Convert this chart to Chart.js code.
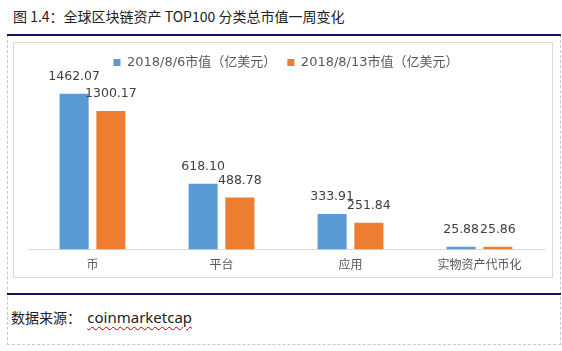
<!DOCTYPE html>
<html>
<head>
<meta charset="utf-8">
<script src="https://cdn.jsdelivr.net/npm/chart.js@4/dist/chart.umd.min.js"></script>
<style>
  html, body { margin: 0; padding: 0; background: #ffffff; }
  body { width: 562px; height: 351px; position: relative; overflow: hidden;
         font-family: "Noto Sans CJK SC", "Noto Sans", sans-serif; }
  #title { position: absolute; left: 13px; top: 5px; font-size: 14px; color: #222;
           line-height: 22px; white-space: nowrap; }
  .navy { position: absolute; left: 7px; width: 554px; height: 2px; background: #14145a; }
  #dash { position: absolute; left: 7px; top: 35px; width: 552px; height: 309px;
          border: 1px dashed #c8c8c8; border-top: none; }
  #inner { position: absolute; left: 13px; top: 42px; width: 538px; height: 234px;
           border: 1px solid #d9d9d9; }
  #cv { position: absolute; left: 14px; top: 43px; }
  #source { position: absolute; left: 11px; top: 306px; font-size: 14px; color: #222;
            line-height: 22px; white-space: nowrap; }
  #source .u { text-decoration: underline wavy #c00000; text-decoration-thickness: 1px;
               text-underline-offset: 3px; font-family: "Noto Sans", sans-serif; font-size: 15px; }
</style>
</head>
<body>
<div id="title">图 1.4：全球区块链资产 TOP100 分类总市值一周变化</div>
<div id="dash"></div>
<div class="navy" style="top:34px"></div>
<div id="inner"></div>
<canvas id="cv" width="538" height="242"></canvas>
<div class="navy" style="top:293px"></div>
<div id="source">数据来源：&nbsp; <span class="u">coinmarketcap</span></div>
<script>
const categories = ["币", "平台", "应用", "实物资产代币化"];
const seriesNames = ["2018/8/6市值（亿美元）", "2018/8/13市值（亿美元）"];
const values0806 = [1462.07, 618.10, 333.91, 25.88];
const values0813 = [1300.17, 488.78, 251.84, 25.86];
const seriesColors = ["#5B9BD5", "#ED7D31"];

const dataLabels = {
  id: "dataLabels",
  afterDatasetsDraw(chart) {
    const ctx = chart.ctx;
    ctx.save();
    ctx.font = "12.5px 'DejaVu Sans', sans-serif";
    ctx.fillStyle = "#404040";
    ctx.textAlign = "center";
    ctx.textBaseline = "middle";
    chart.data.datasets.forEach((ds, di) => {
      const meta = chart.getDatasetMeta(di);
      meta.data.forEach((el, i) => {
        ctx.fillText(ds.data[i].toFixed(2), el.x, el.y - 17);
      });
    });
    ctx.restore();
  }
};

new Chart(document.getElementById("cv"), {
  type: "bar",
  data: {
    labels: categories,
    datasets: [
      { label: seriesNames[0], data: values0806, backgroundColor: seriesColors[0],
        categoryPercentage: 0.57, barPercentage: 0.79 },
      { label: seriesNames[1], data: values0813, backgroundColor: seriesColors[1],
        categoryPercentage: 0.57, barPercentage: 0.79 }
    ]
  },
  options: {
    responsive: false,
    animation: false,
    devicePixelRatio: 1,
    layout: { padding: { left: 14, right: 8, top: 2, bottom: 5 } },
    plugins: {
      legend: {
        display: true,
        position: "top",
        labels: {
          boxWidth: 7, boxHeight: 7, padding: 11, color: "#595959",
          font: { size: 13, family: "'DejaVu Sans', 'Noto Sans CJK SC', sans-serif" }
        }
      },
      tooltip: { enabled: false }
    },
    scales: {
      x: {
        grid: { display: false, drawTicks: false },
        border: { display: true, color: "#d9d9d9", width: 1 },
        ticks: { color: "#595959", padding: 8,
                 font: { size: 12, family: "'Noto Sans CJK SC', sans-serif" } }
      },
      y: { display: false, min: 0, max: 1600 }
    }
  },
  plugins: [dataLabels]
});
</script>
</body>
</html>
